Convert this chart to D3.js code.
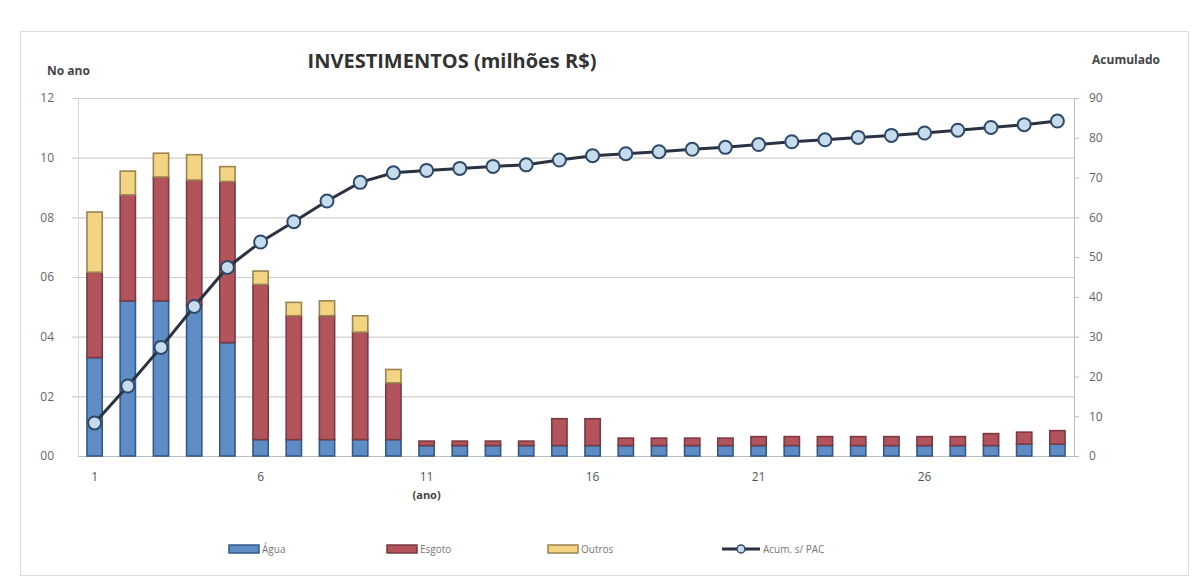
<!DOCTYPE html>
<html>
<head>
<meta charset="utf-8">
<script src="https://cdn.jsdelivr.net/npm/d3@7"></script>
<style>
  body { margin: 0; background: #fff; }
  svg { display: block; }
  text { font-family: "Open Sans", "DejaVu Sans", sans-serif; }
</style>
</head>
<body>
<svg id="chart" width="1198" height="582"></svg>
<script>
// Investimentos anuais por componente (milhões R$) e total acumulado
const anos = [1,2,3,4,5,6,7,8,9,10,11,12,13,14,15,16,17,18,19,20,21,22,23,24,25,26,27,28,29,30];
const agua   = [3.3,5.2,5.2,5.05,3.8,0.55,0.55,0.55,0.55,0.55,0.35,0.35,0.35,0.35,0.35,0.35,0.35,0.35,0.35,0.35,0.35,0.35,0.35,0.35,0.35,0.35,0.35,0.35,0.4,0.4];
const esgoto = [2.86,3.55,4.15,4.2,5.4,5.2,4.15,4.15,3.6,1.9,0.15,0.15,0.15,0.15,0.9,0.9,0.25,0.25,0.25,0.25,0.3,0.3,0.3,0.3,0.3,0.3,0.3,0.4,0.4,0.45];
const outros = [2.02,0.8,0.8,0.85,0.5,0.45,0.45,0.5,0.55,0.45,0,0,0,0,0,0,0,0,0,0,0,0,0,0,0,0,0,0,0,0];
const acumulado = [8.3,17.6,27.3,37.6,47.4,53.8,58.9,64.1,68.8,71.2,71.8,72.3,72.8,73.2,74.4,75.5,76.0,76.5,77.1,77.6,78.3,79.0,79.5,80.1,80.6,81.2,81.9,82.6,83.3,84.2];

const ticksAno = [0,2,4,6,8,10,12];
const ticksAcum = [0,10,20,30,40,50,60,70,80,90];
const rotulosX = [1,6,11,16,21,26];
const series = ["agua","esgoto","outros"];
const nomesSerie = {agua: "Água", esgoto: "Esgoto", outros: "Outros"};

const cores = {
  agua:   {fill: "#5d8dc4", stroke: "#34598a"},
  esgoto: {fill: "#b3545d", stroke: "#7a3a42"},
  outros: {fill: "#f3d483", stroke: "#9a8452"}
};

const svg = d3.select("#chart");
const plot = {left: 78, right: 1074, top: 98, bottom: 456};

// moldura do gráfico
svg.append("rect")
  .attr("x", 20.5).attr("y", 31.5).attr("width", 1168).attr("height", 544)
  .attr("fill", "none").attr("stroke", "#dcdcdc");

const x = d3.scaleBand().domain(anos).range([plot.left, plot.right]).paddingInner(0.54).paddingOuter(0.27);
const yL = d3.scaleLinear().domain([0, 12]).range([plot.bottom, plot.top]);
const yR = d3.scaleLinear().domain([0, 90]).range([plot.bottom, plot.top]);

// linhas de grade
svg.append("g").selectAll("line").data(ticksAno.filter(d => d > 0)).join("line")
  .attr("x1", plot.left - 6).attr("x2", plot.right)
  .attr("y1", d => yL(d) + 0.5).attr("y2", d => yL(d) + 0.5)
  .attr("stroke", "#cfcfcf").attr("stroke-width", 1.2);

// eixo esquerdo
const axL = svg.append("g").attr("transform", `translate(${plot.left},0)`)
  .call(d3.axisLeft(yL).tickValues(ticksAno).tickFormat(d3.format("02d")).tickSize(0).tickPadding(24));
axL.select(".domain").attr("stroke", "#d8d8d8");
axL.selectAll("text").attr("fill", "#666").attr("font-size", 12);

// eixo direito
const axR = svg.append("g").attr("transform", `translate(${plot.right},0)`)
  .call(d3.axisRight(yR).tickValues(ticksAcum).tickSize(5).tickPadding(10));
axR.select(".domain").attr("stroke", "#bdbdbd");
axR.selectAll(".tick line").attr("stroke", "#bdbdbd");
axR.selectAll("text").attr("fill", "#666").attr("font-size", 12);

// eixo horizontal
const axX = svg.append("g").attr("transform", `translate(0,${plot.bottom})`)
  .call(d3.axisBottom(x).tickValues(rotulosX).tickSize(0).tickPadding(16));
axX.select(".domain").attr("stroke", "#bdbdbd");
axX.selectAll("text").attr("fill", "#555").attr("font-size", 12);

// barras empilhadas
const tabela = anos.map((a, i) => ({ano: a, agua: agua[i], esgoto: esgoto[i], outros: outros[i]}));
const pilha = d3.stack().keys(series)(tabela);
svg.append("g").selectAll("g").data(pilha).join("g")
  .attr("fill", d => cores[d.key].fill)
  .attr("stroke", d => cores[d.key].stroke)
  .attr("stroke-width", 1.6)
  .selectAll("rect").data(d => d.filter(p => p[1] - p[0] > 0)).join("rect")
    .attr("x", d => x(d.data.ano))
    .attr("width", x.bandwidth())
    .attr("y", d => yL(d[1]))
    .attr("height", d => yL(d[0]) - yL(d[1]));

// linha do acumulado
const linha = d3.line().x((d, i) => x(anos[i]) + x.bandwidth() / 2).y(d => yR(d));
svg.append("path").datum(acumulado)
  .attr("d", linha).attr("fill", "none")
  .attr("stroke", "#2a3140").attr("stroke-width", 3);
svg.append("g").selectAll("circle").data(acumulado).join("circle")
  .attr("cx", (d, i) => x(anos[i]) + x.bandwidth() / 2)
  .attr("cy", d => yR(d))
  .attr("r", 6.5)
  .attr("fill", "#c6dced")
  .attr("stroke", "#2f4a68").attr("stroke-width", 2);

// títulos
svg.append("text").attr("x", 452).attr("y", 68).attr("text-anchor", "middle")
  .attr("font-size", 20).attr("font-weight", "bold").attr("fill", "#333")
  .text("INVESTIMENTOS (milhões R$)");
svg.append("text").attr("x", 47).attr("y", 75)
  .attr("font-size", 12).attr("font-weight", "bold").attr("fill", "#444").text("No ano");
svg.append("text").attr("x", 1160).attr("y", 64).attr("text-anchor", "end")
  .attr("font-size", 12).attr("font-weight", "bold").attr("fill", "#444").text("Acumulado");
svg.append("text").attr("x", x(11) + x.bandwidth() / 2).attr("y", 499).attr("text-anchor", "middle")
  .attr("font-size", 11).attr("font-weight", "bold").attr("fill", "#444").text("(ano)");

// legenda
const legenda = svg.append("g").attr("transform", "translate(0,549)");
const posLeg = {agua: 229, esgoto: 387, outros: 548};
series.forEach(k => {
  legenda.append("rect").attr("x", posLeg[k]).attr("y", -4).attr("width", 30).attr("height", 8)
    .attr("fill", cores[k].fill).attr("stroke", cores[k].stroke).attr("stroke-width", 1.5);
  legenda.append("text").attr("x", posLeg[k] + 33).attr("y", 4)
    .attr("font-size", 10).attr("fill", "#777").text(nomesSerie[k]);
});
legenda.append("line").attr("x1", 722).attr("x2", 760).attr("y1", 0).attr("y2", 0)
  .attr("stroke", "#2a3140").attr("stroke-width", 3);
legenda.append("circle").attr("cx", 741).attr("cy", 0).attr("r", 4)
  .attr("fill", "#c6dced").attr("stroke", "#2f4a68").attr("stroke-width", 1.5);
legenda.append("text").attr("x", 763).attr("y", 4)
  .attr("font-size", 10).attr("fill", "#777").text("Acum. s/ PAC");
</script>
</body>
</html>
